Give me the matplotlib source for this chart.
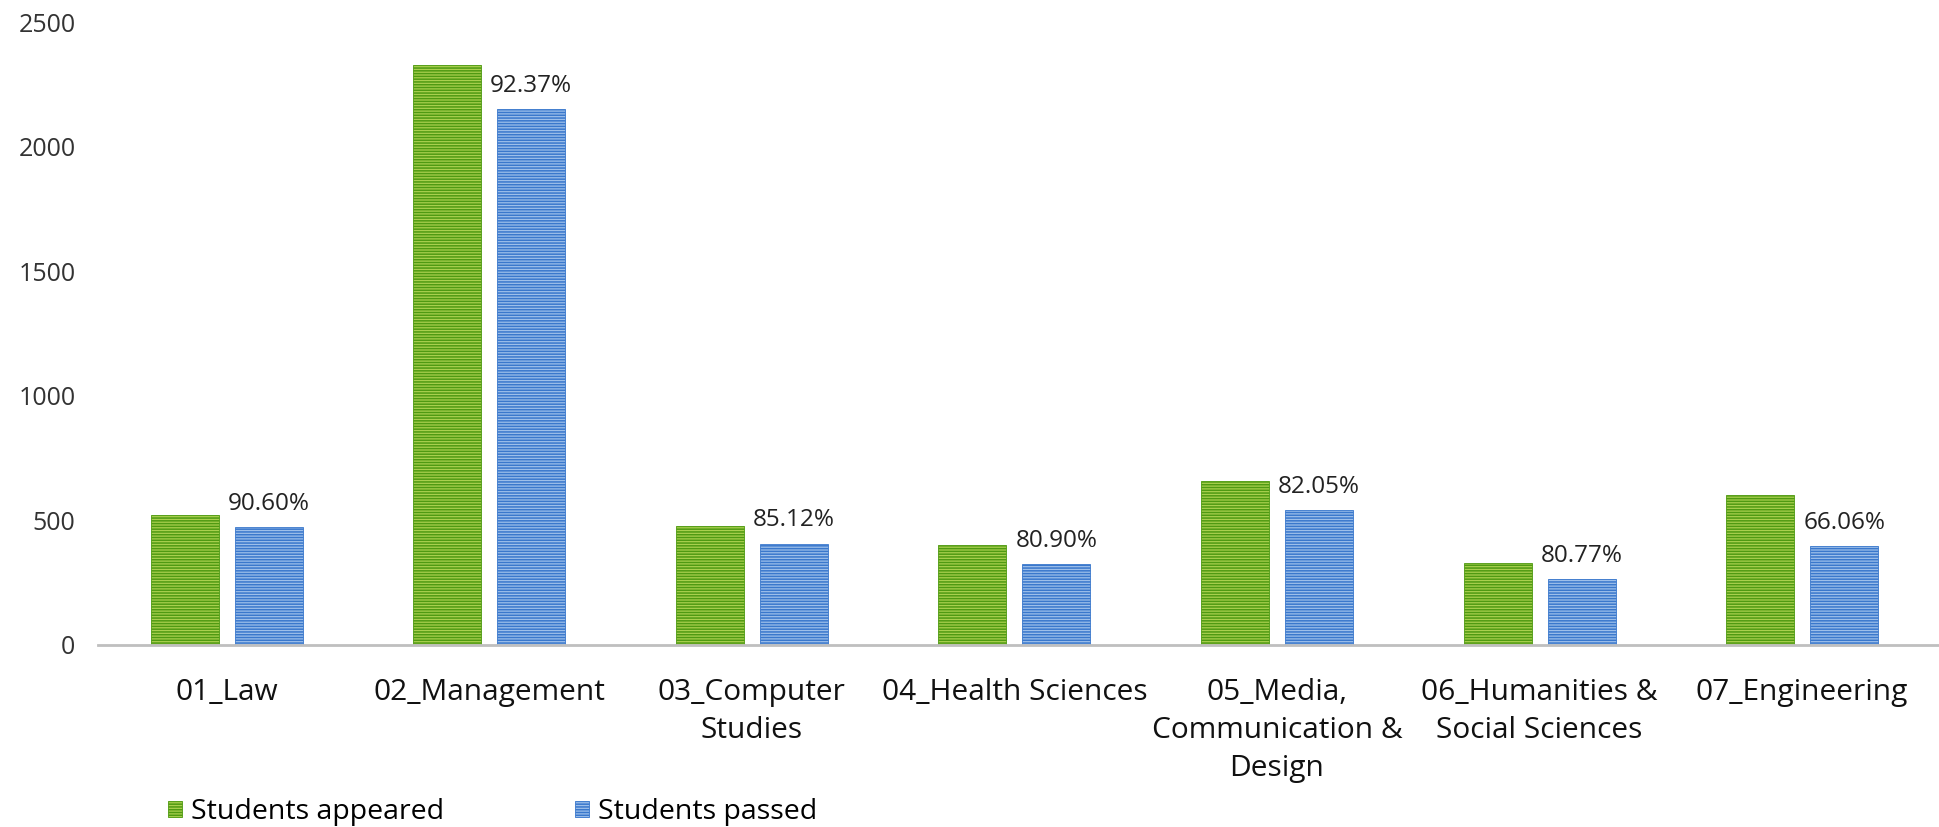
import numpy as np
import matplotlib
matplotlib.use("Agg")
import matplotlib.pyplot as plt

# --- data ---
categories = ["01_Law", "02_Management", "03_Computer\nStudies", "04_Health Sciences",
              "05_Media,\nCommunication &\nDesign", "06_Humanities &\nSocial Sciences",
              "07_Engineering"]
appeared = [520, 2330, 477, 400, 658, 328, 600]
passed = [471, 2152, 406, 324, 540, 265, 396]
pass_pct = ["90.60%", "92.37%", "85.12%", "80.90%", "82.05%", "80.77%", "66.06%"]
yticks = [0, 500, 1000, 1500, 2000, 2500]

plt.rcParams['font.family'] = ['Open Sans', 'DejaVu Sans']
plt.rcParams['hatch.linewidth'] = 1.1

fig = plt.figure(figsize=(19.4, 8.27), dpi=100)
ax = fig.add_axes([97.7 / 1940, 1 - 644.6 / 827, 1 - 97.7 / 1940, (644.6 - 22.3) / 827])

x = np.arange(len(categories))
w = 0.259
off = 0.16

ax.bar(x - off, appeared, width=w, color='#A9D04E', edgecolor='#4F9A12',
       hatch='------', linewidth=0.6, label='Students appeared', zorder=2)
bars_p = ax.bar(x + off, passed, width=w, color='#9DBFEA', edgecolor='#3A78CC',
                hatch='------', linewidth=0.6, label='Students passed', zorder=2)

for b, txt in zip(bars_p, pass_pct):
    ax.annotate(txt, (b.get_x() + b.get_width() / 2, b.get_height()),
                xytext=(0, 8), textcoords='offset points',
                ha='center', va='bottom', fontsize=17.5, color='#222222')

ax.set_xlim(-0.491, 6.525)
ax.set_ylim(0, 2500)
ax.set_yticks(yticks)
ax.set_xticks(x)
ax.set_xticklabels(categories, fontsize=21.5, linespacing=1.42, color='#111111')
ax.tick_params(axis='y', length=0, pad=16, labelsize=18, labelcolor='#333333')
ax.tick_params(axis='x', length=0, pad=24)

for s in ['top', 'right', 'left']:
    ax.spines[s].set_visible(False)
ax.spines['bottom'].set_color('#BFBFBF')
ax.spines['bottom'].set_linewidth(2)

leg = fig.legend(loc='center left', bbox_to_anchor=(168 / 1940, 1 - 812 / 827),
                 ncol=2, frameon=False, fontsize=20.5, handlelength=0.5,
                 handleheight=0.5, handletextpad=0.3, columnspacing=4.6,
                 borderaxespad=0, borderpad=0)

fig.savefig("out.png", dpi=100)
